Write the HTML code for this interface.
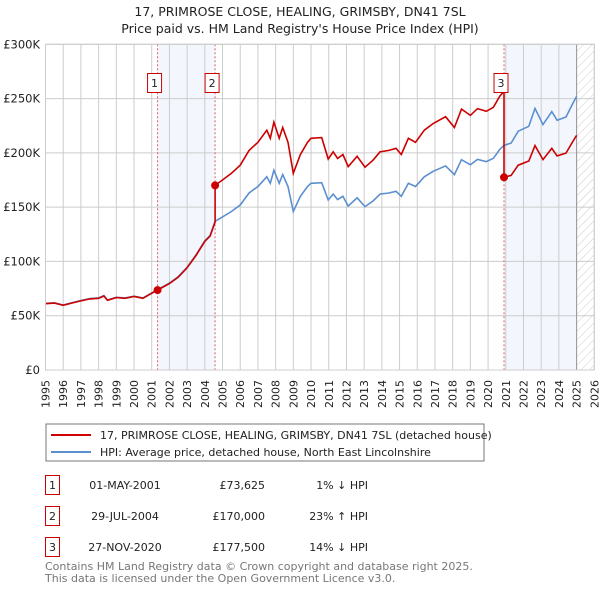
<!DOCTYPE html>
<html><head><meta charset="utf-8">
<style>
body{margin:0;background:#fff;font-family:"Liberation Sans","DejaVu Sans",sans-serif;}
svg text{font-family:"DejaVu Sans","Liberation Sans",sans-serif;}
</style></head>
<body>
<svg id="chart" width="600" height="590" viewBox="0 0 600 590" xmlns="http://www.w3.org/2000/svg">
<defs>
<pattern id="hatch" width="6" height="6" patternUnits="userSpaceOnUse" patternTransform="rotate(45)">
<line x1="0" y1="0" x2="0" y2="6" stroke="#ccc" stroke-width="1"/>
</pattern>
</defs>
<text x="300" y="16" text-anchor="middle" font-size="12.5" fill="#222">17, PRIMROSE CLOSE, HEALING, GRIMSBY, DN41 7SL</text>
<text x="300" y="33" text-anchor="middle" font-size="12.5" fill="#222">Price paid vs. HM Land Registry's House Price Index (HPI)</text>
<g id="plot"></g>
<g>
<rect x="46" y="424" width="438" height="37" fill="#fff" stroke="#777"/>
<line x1="51" y1="435" x2="91" y2="435" stroke="#cc0000" stroke-width="2"/>
<text x="100" y="439" font-size="11" fill="#222">17, PRIMROSE CLOSE, HEALING, GRIMSBY, DN41 7SL (detached house)</text>
<line x1="51" y1="452" x2="91" y2="452" stroke="#5b8fd0" stroke-width="2"/>
<text x="100" y="456" font-size="11" fill="#222">HPI: Average price, detached house, North East Lincolnshire</text>
</g>
<g font-size="11" fill="#222">
<rect x="45.5" y="475.5" width="14" height="19" fill="#fff" stroke="#cc0000"/>
<text x="52.5" y="489" text-anchor="middle">1</text>
<text x="125" y="489" text-anchor="middle">01-MAY-2001</text>
<text x="265" y="489" text-anchor="end">£73,625</text>
<text x="368" y="489" text-anchor="end">1% ↓ HPI</text>
<rect x="45.5" y="506.5" width="14" height="19" fill="#fff" stroke="#cc0000"/>
<text x="52.5" y="520" text-anchor="middle">2</text>
<text x="125" y="520" text-anchor="middle">29-JUL-2004</text>
<text x="265" y="520" text-anchor="end">£170,000</text>
<text x="368" y="520" text-anchor="end">23% ↑ HPI</text>
<rect x="45.5" y="537.5" width="14" height="19" fill="#fff" stroke="#cc0000"/>
<text x="52.5" y="551" text-anchor="middle">3</text>
<text x="125" y="551" text-anchor="middle">27-NOV-2020</text>
<text x="265" y="551" text-anchor="end">£177,500</text>
<text x="368" y="551" text-anchor="end">14% ↓ HPI</text>
</g>
<text x="45" y="570" font-size="11" fill="#777">Contains HM Land Registry data © Crown copyright and database right 2025.</text>
<text x="45" y="582" font-size="11" fill="#777">This data is licensed under the Open Government Licence v3.0.</text>
</svg>
<script>
const yTicks=[0,50000,100000,150000,200000,250000,300000];
const yTickLabels=["£0","£50K","£100K","£150K","£200K","£250K","£300K"];
const xYears=[1995,1996,1997,1998,1999,2000,2001,2002,2003,2004,2005,2006,2007,2008,2009,2010,2011,2012,2013,2014,2015,2016,2017,2018,2019,2020,2021,2022,2023,2024,2025,2026];
const hpiDates=[1995.0,1995.5,1996.0,1996.5,1997.0,1997.5,1998.0,1998.3,1998.5,1999.0,1999.5,2000.0,2000.5,2001.0,2001.33,2001.5,2002.0,2002.5,2003.0,2003.5,2004.0,2004.3,2004.58,2005.0,2005.5,2006.0,2006.5,2007.0,2007.5,2007.7,2007.9,2008.2,2008.4,2008.7,2009.0,2009.4,2009.8,2010.0,2010.6,2010.97,2011.25,2011.5,2011.8,2012.1,2012.6,2013.05,2013.5,2013.9,2014.4,2014.8,2015.1,2015.5,2015.9,2016.4,2016.9,2017.6,2018.1,2018.5,2019.0,2019.4,2019.9,2020.3,2020.65,2020.9,2021.3,2021.7,2022.3,2022.65,2023.1,2023.6,2023.9,2024.4,2024.8,2025.0];
const hpiValues=[61400,61900,59900,62000,64000,65800,66400,68500,64500,67000,66400,68000,66400,71000,74000,75500,80000,86000,94600,106000,119000,124000,137000,141000,146000,152000,163000,169000,178000,172000,184000,172000,180000,169000,146000,160000,169000,172000,172500,156600,162000,157000,160000,151000,158600,150500,155700,162000,163000,164600,160000,172000,169000,178000,183000,188000,180000,193700,189000,194000,192000,195000,203000,207000,209000,220000,224500,241000,226000,238000,230000,233000,246000,252000];
const saleDates=[2001.33,2004.58,2020.9];
const salePrices=[73625,170000,177500];
const saleLabels=["1","2","3"];

const X0=45.5,X1=594.3,Y0=370,Y1=44.3;
const xs=d=>X0+(d-1995)/(2026-1995)*(X1-X0);
const ys=v=>Y0-v/300000*(Y0-Y1);
const NS="http://www.w3.org/2000/svg";
const plot=document.getElementById('plot');
function mk(t,a){const e=document.createElementNS(NS,t);for(const k in a)e.setAttribute(k,a[k]);plot.appendChild(e);return e;}
function hpiAt(d){for(let i=0;i<hpiDates.length-1;i++){if(d>=hpiDates[i]&&d<=hpiDates[i+1]){const t=(d-hpiDates[i])/(hpiDates[i+1]-hpiDates[i]);return hpiValues[i]+t*(hpiValues[i+1]-hpiValues[i]);}}return hpiValues[hpiValues.length-1];}

let r=mk('rect',{x:xs(saleDates[0]),y:Y1,width:xs(saleDates[1])-xs(saleDates[0]),height:Y0-Y1,fill:'#eef3fc',opacity:0.7});


r=mk('rect',{x:xs(saleDates[2]),y:Y1,width:xs(2025)-xs(saleDates[2]),height:Y0-Y1,fill:'#eef3fc',opacity:0.7});


r=mk('rect',{x:xs(2025),y:Y1,width:X1-xs(2025),height:Y0-Y1,fill:'url(#hatch)'});



xYears.forEach(y=>{const l=mk('line',{x1:xs(y),x2:xs(y),y1:Y1,y2:Y0,stroke:'#ccc','stroke-width':1});


const t=mk('text',{transform:`translate(${xs(y)+4},${Y0+38}) rotate(-90)`,'font-size':11,fill:'#222'});t.textContent=y;

});
yTicks.forEach((v,i)=>{const l=mk('line',{x1:X0,x2:X1,y1:ys(v),y2:ys(v),stroke:'#ccc','stroke-width':1});


const t=mk('text',{x:40,y:ys(v)+4,'text-anchor':'end','font-size':11.5,fill:'#222'});t.textContent=yTickLabels[i];

});
let ln=mk('line',{x1:xs(2025),x2:xs(2025),y1:Y1,y2:Y0,stroke:'#999','stroke-width':1});



saleDates.forEach((d,i)=>{const l=mk('line',{x1:xs(d),x2:xs(d),y1:Y1,y2:Y0,stroke:'#e06060','stroke-width':1,'stroke-dasharray':'2,2'});

});

let p='';hpiDates.forEach((d,i)=>{p+=(i?'L':'M')+xs(d).toFixed(1)+','+ys(hpiValues[i]).toFixed(1);});
let path=mk('path',{d:p,fill:'none',stroke:'#5b8fd0','stroke-width':1.6});



const factors=saleDates.map((d,i)=>salePrices[i]/hpiAt(d));
function factorAt(d){let f=factors[0];saleDates.forEach((s,i)=>{if(d>=s)f=factors[i];});return f;}
const pts=[];
hpiDates.forEach(d=>pts.push(d));saleDates.forEach(d=>pts.push(d));
pts.sort((a,b)=>a-b);
p='';pts.forEach((d,i)=>{const si=saleDates.indexOf(d);
 if(si>0){const prev=factors[si-1]*hpiAt(d);p+='L'+xs(d).toFixed(1)+','+ys(prev).toFixed(1);}
 const v=factorAt(d)*hpiAt(d);p+=(i?'L':'M')+xs(d).toFixed(1)+','+ys(v).toFixed(1);});
path=mk('path',{d:p,fill:'none',stroke:'#cc0000','stroke-width':1.6});



saleDates.forEach((d,i)=>{const c=mk('circle',{cx:xs(d),cy:ys(salePrices[i]),r:4,fill:'#cc0000'});


const b=mk('rect',{x:xs(d)-10,y:73.5,width:14,height:19,fill:'#fff',stroke:'#cc0000'});


const t=mk('text',{x:xs(d)-3,y:87,'text-anchor':'middle','font-size':11,fill:'#222'});t.textContent=saleLabels[i];

});
let fr=mk('rect',{x:X0,y:Y1,width:X1-X0,height:Y0-Y1,fill:'none',stroke:'#ccc'});


</script>
</body></html>
